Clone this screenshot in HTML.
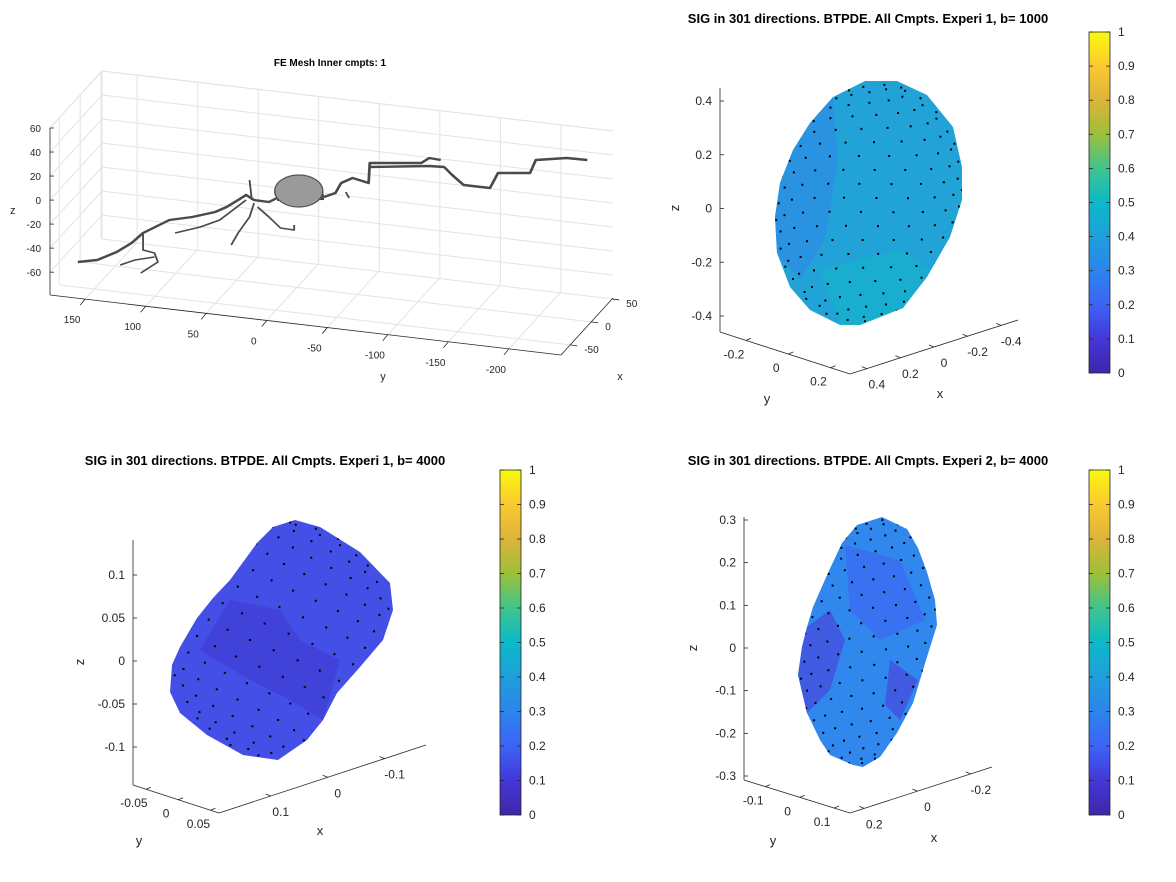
<!DOCTYPE html>
<html><head><meta charset="utf-8">
<style>
html,body{margin:0;padding:0;background:#fff;}
svg{display:block;font-family:"Liberation Sans",Arial,sans-serif;}
.tk{font-size:12px;fill:#262626;}
.ttl{font-size:13px;font-weight:bold;fill:#000;}
</style></head>
<body>
<svg id="fig" width="1176" height="882" viewBox="0 0 1176 882" xmlns="http://www.w3.org/2000/svg">
<defs id="defs">
<linearGradient id="parula" x1="0" y1="1" x2="0" y2="0">
<stop offset="0" stop-color="#3e26a8"/>
<stop offset="0.1" stop-color="#4437d8"/>
<stop offset="0.2" stop-color="#3d63f7"/>
<stop offset="0.3" stop-color="#2c85ec"/>
<stop offset="0.4" stop-color="#1f9fda"/>
<stop offset="0.5" stop-color="#0bb9c9"/>
<stop offset="0.6" stop-color="#3fc48c"/>
<stop offset="0.7" stop-color="#9dbf3a"/>
<stop offset="0.8" stop-color="#dcb43a"/>
<stop offset="0.9" stop-color="#fcc830"/>
<stop offset="1" stop-color="#f8fa0e"/>
</linearGradient>
</defs>

<g id="p1">
<text x="330" y="66" text-anchor="middle" style="font-size:10px;font-weight:bold">FE Mesh Inner cmpts: 1</text>
<g id="p1grid"></g>
<g id="p1neuron" transform="translate(40,0) scale(1.145,1) translate(-40,0)" fill="none" stroke="#4a4a4a" stroke-width="2.4" stroke-linejoin="round">
<polyline points="73,262 90,260 107,252 120,243 130,233 153,220 173,217 193,212 203,207 213,200 220,195 227,200 240,202 247,198"/>
<polyline points="288,197 298,193 303,183 313,178 327,183 328,163 373,163 380,158 390,160"/>
<polyline points="328,167 380,166 393,167 400,175 410,185 433,188 440,173 468,173 473,160 500,158 518,160" />
<polyline points="130,233 130,250 140,253 143,262 128,273" stroke-width="1.6"/>
<polyline points="110,265 123,260 140,257" stroke-width="1.6"/>
<polyline points="158,233 180,227 197,220 220,200" stroke-width="1.6"/>
<polyline points="207,245 213,233 223,217 227,203" stroke-width="1.6"/>
<polyline points="230,207 240,217 250,228 262,230 262,225" stroke-width="1.6"/>
<polyline points="223,180 225,200" stroke-width="1.6"/>
<polyline points="307,192 310,198" stroke-width="1.6"/>
<polyline points="247,198 288,197" stroke-width="6"/>
<ellipse cx="266" cy="191" rx="21" ry="16" fill="#9a9a9a" stroke="#555" stroke-width="1.2"/>
</g>
<text x="383" y="380" text-anchor="middle" class="tk" style="font-size:11px">y</text>
<text x="620" y="380" text-anchor="middle" class="tk" style="font-size:11px">x</text>
<text x="10" y="214" class="tk" style="font-size:11px">z</text>
</g>

<g id="p2">
<text x="868" y="23" text-anchor="middle" class="ttl">SIG in 301 directions. BTPDE. All Cmpts. Experi 1, b= 1000</text>
</g>
<g id="p3">
<text x="265" y="465" text-anchor="middle" class="ttl">SIG in 301 directions. BTPDE. All Cmpts. Experi 1, b= 4000</text>
</g>
<g id="p4">
<text x="868" y="465" text-anchor="middle" class="ttl">SIG in 301 directions. BTPDE. All Cmpts. Experi 2, b= 4000</text>
</g>
</svg>
<script>
var meshZTicks=[60,40,20,0,-20,-40,-60];
var meshYTicks=[150,100,50,0,-50,-100,-150,-200];
var meshXTicks=[50,0,-50];
var cbTicks=[0,0.1,0.2,0.3,0.4,0.5,0.6,0.7,0.8,0.9,1];
var p2ZTicks=[0.4,0.2,0,-0.2,-0.4];
var p2YTicks=[-0.2,0,0.2];
var p2XTicks=[0.4,0.2,0,-0.2,-0.4];
var p3ZTicks=[0.1,0.05,0,-0.05,-0.1];
var p3YTicks=[-0.05,0,0.05];
var p3XTicks=[0.1,0,-0.1];
var p4ZTicks=[0.3,0.2,0.1,0,-0.1,-0.2,-0.3];
var p4YTicks=[-0.1,0,0.1];
var p4XTicks=[0.2,0,-0.2];
var nDirections=301;

(function(){
var NSX="http://www.w3.org/2000/svg";
var root=document.getElementById('fig');
var defsEl=document.getElementById('defs');
function mkEl(tag,attrs,parent){var e=document.createElementNS(NSX,tag);for(var k in attrs)e.setAttribute(k,attrs[k]);(parent||root).appendChild(e);return e;}
function seg(p,q,st,w,parent){return mkEl('line',{x1:p[0],y1:p[1],x2:q[0],y2:q[1],stroke:st,'stroke-width':w},parent);}
function label(parent,x,y,txt,anchor,style,nm){
  var t=mkEl('text',{x:x,y:y,'text-anchor':anchor,'class':'tk'},parent);
  if(style)t.setAttribute('style',style);
  t.textContent=txt;
  
  
  return t;
}

// ---- Panel 1 ----
var g1=document.getElementById('p1grid');
var Y0=179,Y1=-243,X0=-72,X1=52,Z0=-79,Z1=60;
function proj1(y,x,z){
  var fy=(Y0-y)/(Y0-Y1), fx=(x-X0)/(X1-X0), fz=(z-Z0)/(Z1-Z0);
  return [50+511*fy+52*fx, 295+60*fy-57*fx-167*fz];
}
var gc='#e3e3e3';
meshZTicks.forEach(function(z){
  seg(proj1(Y0,X1,z),proj1(Y1,X1,z),gc,1,g1);
  seg(proj1(Y0,X0,z),proj1(Y0,X1,z),gc,1,g1);
});
meshYTicks.forEach(function(y){
  seg(proj1(y,X1,Z0),proj1(y,X1,Z1),gc,1,g1);
  seg(proj1(y,X0,Z0),proj1(y,X1,Z0),gc,1,g1);
});
meshXTicks.forEach(function(x){
  seg(proj1(Y0,x,Z0),proj1(Y1,x,Z0),gc,1,g1);
  seg(proj1(Y0,x,Z0),proj1(Y0,x,Z1),gc,1,g1);
});
seg(proj1(Y0,X1,Z0),proj1(Y0,X1,Z1),gc,1,g1);
seg(proj1(Y0,X1,Z1),proj1(Y1,X1,Z1),gc,1,g1);
seg(proj1(Y0,X0,Z1),proj1(Y0,X1,Z1),gc,1,g1);
var axc='#262626';
seg(proj1(Y0,X0,Z0),proj1(Y0,X0,Z1),axc,0.8,g1);
seg(proj1(Y0,X0,Z0),proj1(Y1,X0,Z0),axc,0.8,g1);
seg(proj1(Y1,X0,Z0),proj1(Y1,X1,Z0),axc,0.8,g1);
meshZTicks.forEach(function(z){var p=proj1(Y0,X0,z);
  seg(p,[p[0]+4,p[1]],axc,0.8,g1);
  label(g1,p[0]-9,p[1]+4,z,'end','font-size:10px','z-tick-label');});
meshYTicks.forEach(function(y){var p=proj1(y,X0,Z0);
  seg(p,[p[0]-5,p[1]+6],axc,0.8,g1);
  label(g1,p[0]-13,p[1]+24,y,'middle','font-size:10px','y-tick-label');});
meshXTicks.forEach(function(x){var p=proj1(Y1,x,Z0);
  seg(p,[p[0]+7,p[1]+1],axc,0.8,g1);
  label(g1,p[0]+14,p[1]+8,x,'start','font-size:10px','x-tick-label');});

// ---- colorbars ----
function colorbar(x,y0,y1,nm){
  var g=mkEl('g',{});
  
  
  mkEl('rect',{x:x,y:y0,width:21,height:y1-y0,fill:'url(#parula)',stroke:'#262626','stroke-width':0.8},g);
  cbTicks.forEach(function(v){var yy=y1-v*(y1-y0);
    seg([x+21,yy],[x+17,yy],'#262626',0.8,g);seg([x,yy],[x+4,yy],'#262626',0.8,g);
    label(g,x+29,yy+4,v,'start',null,'colorbar-tick-label');});
}
colorbar(1089,32,373,'colorbar-b1000');
colorbar(500,470,815,'colorbar-b4000-exp1');
colorbar(1089,470,815,'colorbar-b4000-exp2');

// ---- 3D axes ----
function axes3(cfg){
  var g=mkEl('g',{});
  
  
  var zx=cfg.zline[0], zt=cfg.zline[1], zb=cfg.zline[2];
  seg([zx,zt],[zx,zb],'#262626',0.8,g);
  seg([zx,zb],cfg.corner,'#262626',0.8,g);
  seg(cfg.corner,cfg.xend,'#262626',0.8,g);
  var zs=cfg.zTicks, z0=zs[0], z1=zs[zs.length-1];
  zs.forEach(function(v){var yy=cfg.zy0+(v-z0)/(z1-z0)*(cfg.zy1-cfg.zy0);
    seg([zx,yy],[zx+4,yy],'#262626',0.8,g);
    label(g,zx-8,yy+4,v,'end',null,'z-tick-label');});
  var ys=cfg.yTicks;
  ys.forEach(function(v){var f=cfg.yf[0]+(v-ys[0])/(ys[ys.length-1]-ys[0])*(cfg.yf[1]-cfg.yf[0]);
    var px=zx+(cfg.corner[0]-zx)*f, py=zb+(cfg.corner[1]-zb)*f;
    seg([px,py],[px+5,py-2],'#262626',0.8,g);
    label(g,px-12,py+18,v,'middle',null,'y-tick-label');});
  var xs=cfg.xTicks;
  xs.forEach(function(v){var f=cfg.xf[0]+(v-xs[0])/(xs[xs.length-1]-xs[0])*(cfg.xf[1]-cfg.xf[0]);
    var px=cfg.corner[0]+(cfg.xend[0]-cfg.corner[0])*f, py=cfg.corner[1]+(cfg.xend[1]-cfg.corner[1])*f;
    seg([px,py],[px-5,py-2],'#262626',0.8,g);
    label(g,px+10,py+20,v,'middle',null,'x-tick-label');});
  var t=label(g,cfg.zlab[0],cfg.zlab[1],'z','middle','font-size:13px','z-axis-title');
  t.setAttribute('transform','rotate(-90 '+cfg.zlab[0]+' '+cfg.zlab[1]+')');
  label(g,cfg.ylab[0],cfg.ylab[1],'y','middle','font-size:13px','y-axis-title');
  label(g,cfg.xlab[0],cfg.xlab[1],'x','middle','font-size:13px','x-axis-title');
}
axes3({name:'b1000',zline:[720,88,332],corner:[850,374],xend:[1018,320],zTicks:p2ZTicks,zy0:101,zy1:316,
  yTicks:p2YTicks,yf:[0.2,0.85],xTicks:p2XTicks,xf:[0.1,0.9],zlab:[679,208],ylab:[767,403],xlab:[940,398]});
axes3({name:'b4000-exp1',zline:[133,540,785],corner:[219,813],xend:[426,745],zTicks:p3ZTicks,zy0:575,zy1:747,
  yTicks:p3YTicks,yf:[0.15,0.9],xTicks:p3XTicks,xf:[0.25,0.8],zlab:[84,662],ylab:[139,845],xlab:[320,835]});
axes3({name:'b4000-exp2',zline:[744,517,780],corner:[850,813],xend:[992,767],zTicks:p4ZTicks,zy0:520,zy1:776,
  yTicks:p4YTicks,yf:[0.2,0.85],xTicks:p4XTicks,xf:[0.1,0.85],zlab:[697,648],ylab:[773,845],xlab:[934,842]});

function pstr(pts){return pts.map(function(p){return p.join(',');}).join(' ');}
function surface(pts,fill,shades,nm,clipId){
  var g=mkEl('g',{});
  
  
  mkEl('polygon',{points:pstr(pts),fill:fill},g);
  shades.forEach(function(s){mkEl('polygon',{points:pstr(s[0]),fill:s[1],opacity:0.85},g);});
  var cp=mkEl('clipPath',{id:clipId},defsEl);
  mkEl('polygon',{points:pstr(pts)},cp);
}
var blob2=[[865,81],[897,81],[927,95],[953,127],[962,167],[962,200],[950,237],[927,277],[903,308],[860,325],[840,325],[810,310],[790,287],[777,253],[775,217],[780,183],[793,150],[810,123],[833,97]];
var blob3=[[295,520],[320,527],[360,552],[390,583],[393,610],[383,640],[360,667],[337,693],[323,720],[307,740],[278,760],[243,755],[207,735],[180,713],[170,692],[172,665],[180,647],[197,618],[213,598],[230,580],[257,543],[273,527]];
var blob4=[[882,517],[907,529],[918,548],[927,572],[935,600],[937,625],[927,657],[920,680],[913,703],[897,733],[880,757],[863,767],[853,765],[830,755],[820,740],[807,713],[798,675],[802,647],[807,627],[813,607],[827,575],[842,543],[857,525]];
surface(blob2,'#22a3d7',[
  [[[793,150],[810,123],[833,97],[838,160],[825,240],[800,280],[777,253],[775,217],[780,183]],'#2a90e4'],
  [[[820,270],[900,250],[930,270],[903,308],[860,325],[840,325]],'#17b0cf']
],'surface-b1000','clip2');
surface(blob3,'#434fe6',[
  [[[230,600],[280,610],[300,640],[340,660],[323,720],[290,700],[250,680],[200,650]],'#3f3fd6']
],'surface-b4000-exp1','clip3');
surface(blob4,'#3087ee',[
  [[[807,627],[830,610],[845,640],[830,690],[807,713],[798,675],[802,647]],'#4452df'],
  [[[890,660],[918,680],[900,720],[885,705]],'#4452df'],
  [[[845,545],[900,560],[925,620],[880,640],[850,610]],'#3b6ff0']
],'surface-b4000-exp2','clip4');

var dirsList=[];
for(var i=0;i<nDirections;i++){
  var zz=1-2*(i+0.5)/nDirections, r=Math.sqrt(1-zz*zz), th=i*2.399963;
  dirsList.push([r*Math.cos(th),r*Math.sin(th),zz]);
}
function dots(cx,cy,rx,ry,rot,nm,clipId){
  var g=mkEl('g',{fill:'#000','clip-path':'url(#'+clipId+')'});
  
  
  var c=Math.cos(rot*Math.PI/180), s=Math.sin(rot*Math.PI/180);
  dirsList.forEach(function(d){
    if(d[1]<0) return;
    var u=d[0]*rx, v=-d[2]*ry;
    var x=cx+u*c-v*s, y=cy+u*s+v*c;
    var e=mkEl('rect',{x:x-1,y:y-1,width:2,height:2},g);
    
    
  });
}
dots(869,203,92,120,12,'points-b1000','clip2');
dots(281,640,112,118,0,'points-b4000-exp1','clip3');
dots(868,642,68,124,10,'points-b4000-exp2','clip4');
})();
</script>
</body></html>
